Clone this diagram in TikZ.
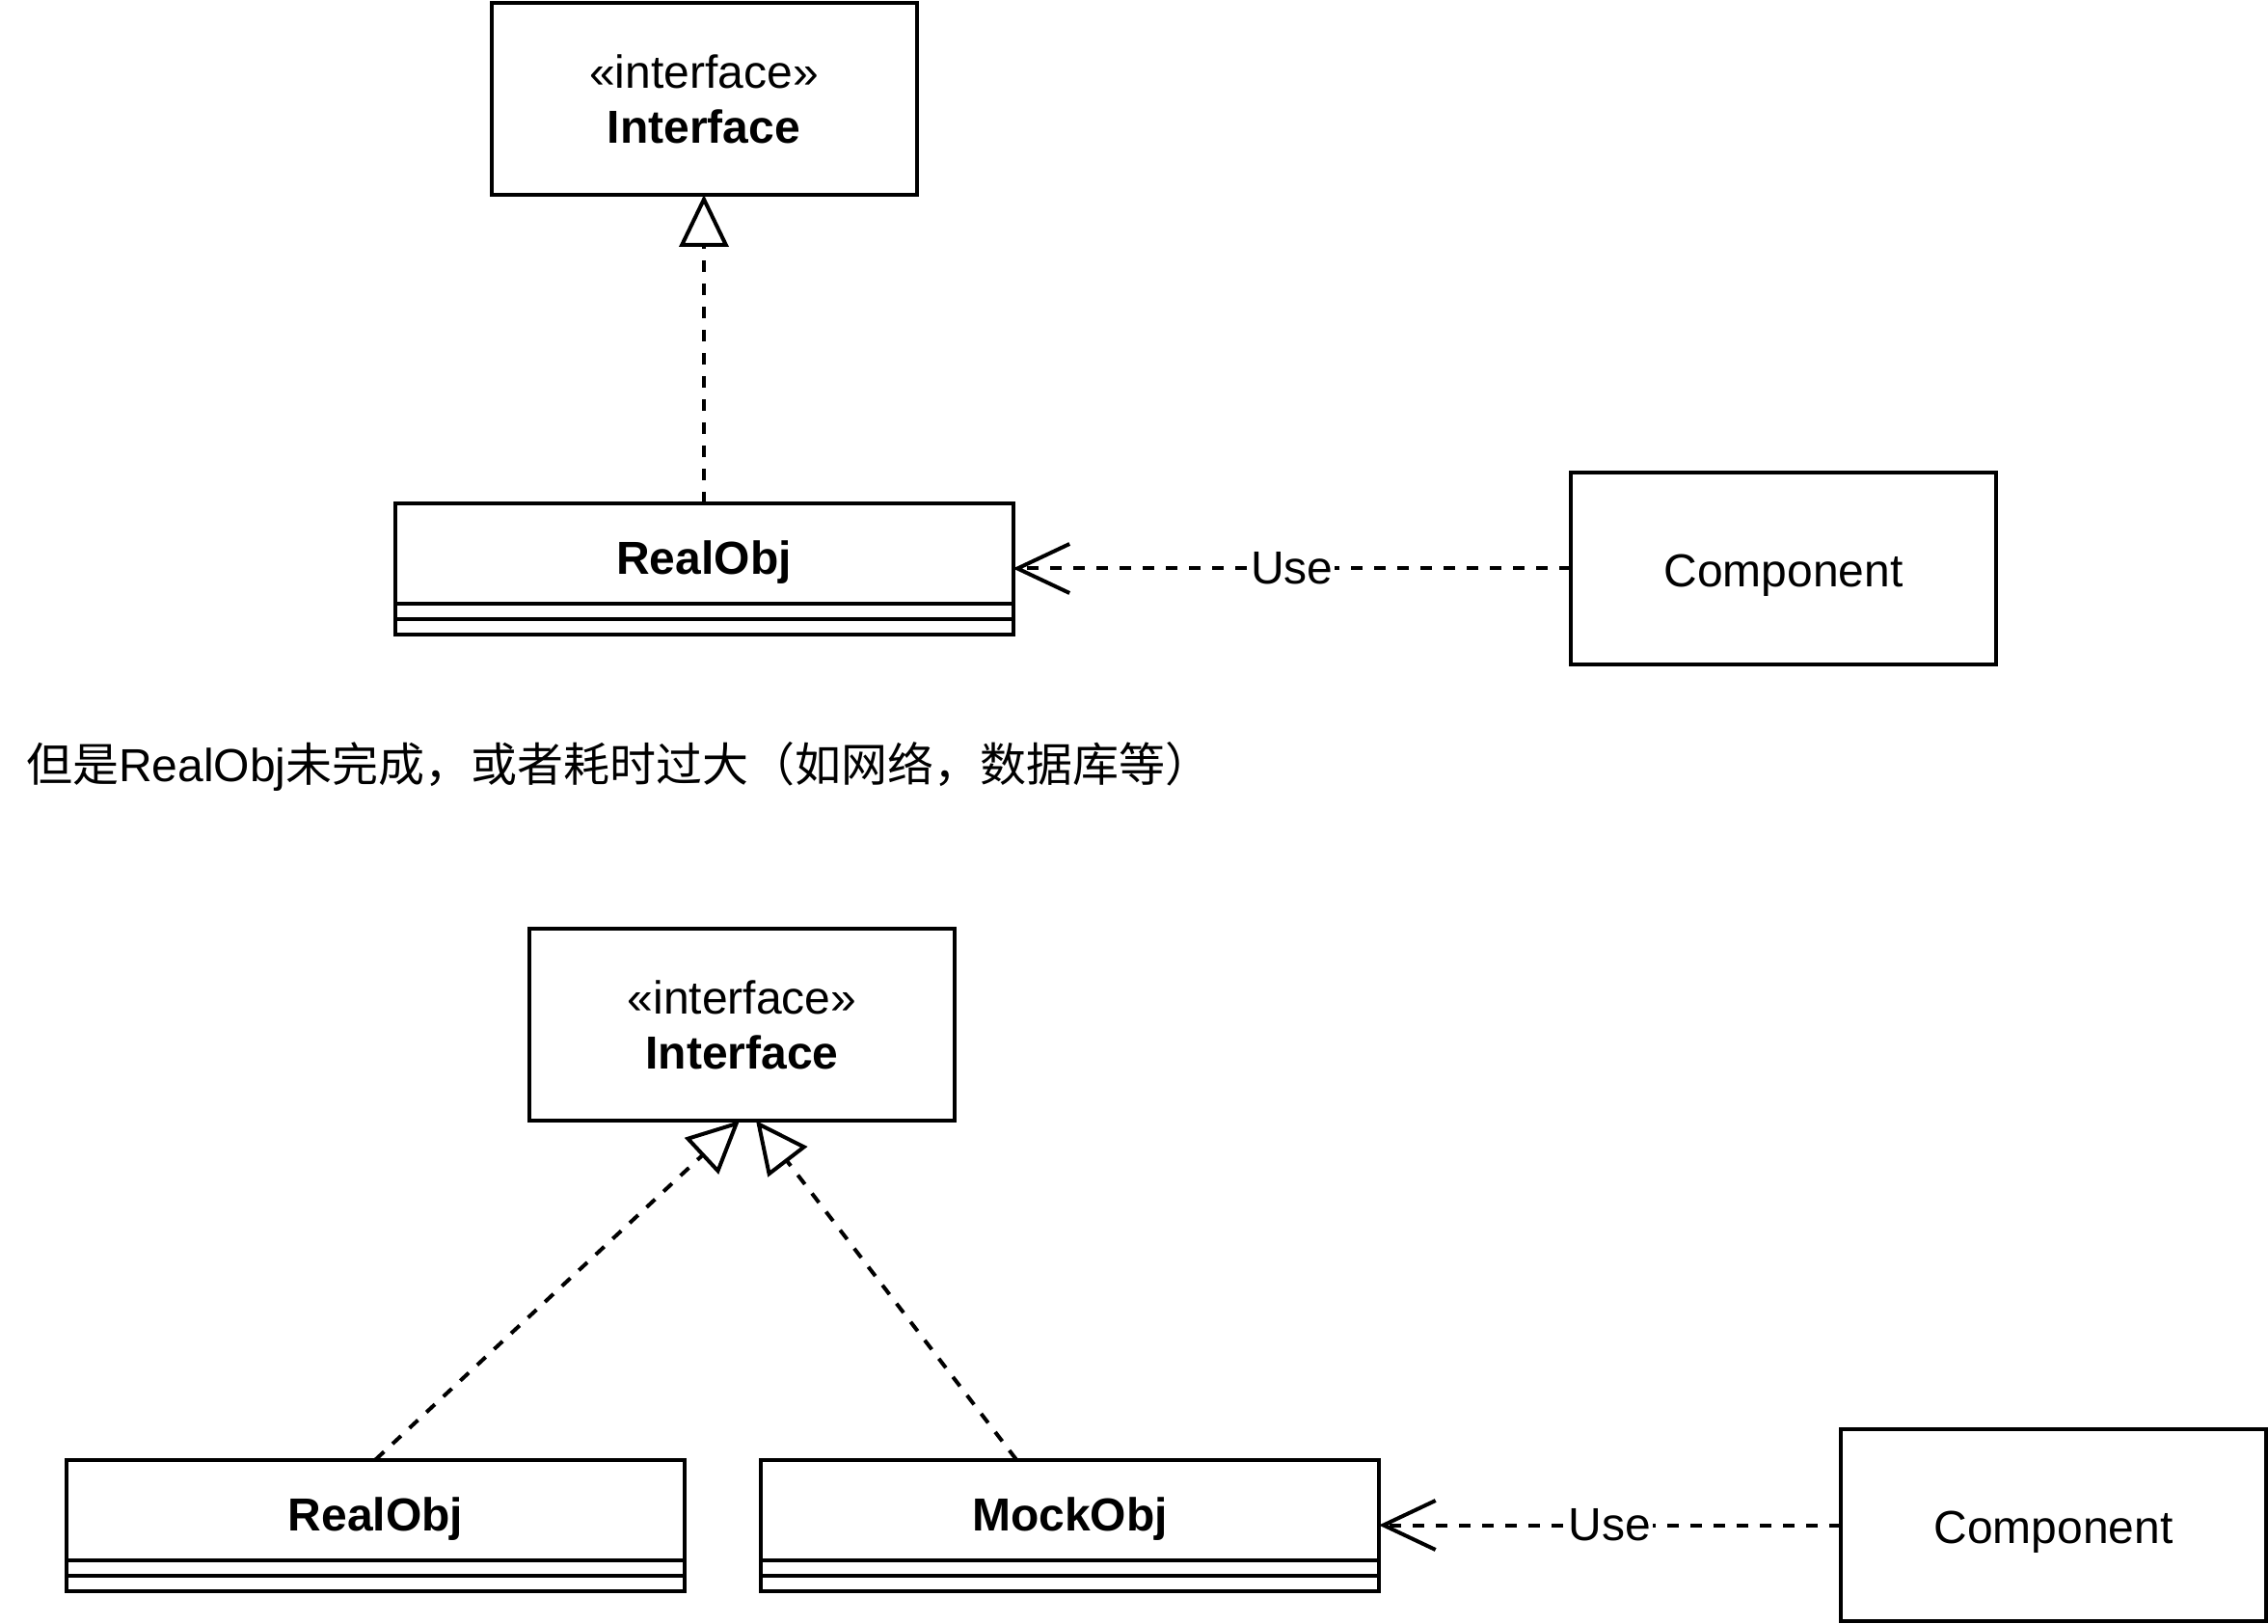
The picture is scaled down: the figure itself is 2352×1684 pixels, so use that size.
\documentclass[tikz,border=0pt]{standalone}
\usepackage{fontspec}
\setmainfont{Liberation Sans}
\newfontfamily\cjk{Noto Sans CJK SC}
\usetikzlibrary{arrows.meta}

\begin{document}
\begin{tikzpicture}[
    x=0.5pt, y=-0.5pt,
    line width=2pt,
    font=\fontsize{24}{28.5}\selectfont,
    ibox/.style={
        rectangle,
        draw,
        minimum width=220.5pt,
        minimum height=99.5pt,
        align=center,
        inner sep=0pt,
        outer sep=0pt
    },
    cls/.style={
        rectangle,
        draw,
        minimum width=320.5pt,
        minimum height=52pt,
        text height=22pt,
        text depth=0pt,
        font=\fontsize{24}{28.5}\selectfont\bfseries,
        inner sep=0pt,
        outer sep=0pt
    },
    realize/.style={
        -{Triangle[open, length=27pt, width=25.5pt]},
        dash pattern=on 6pt off 6pt
    },
    dep/.style={
        -{Straight Barb[length=27pt, width=25.5pt]},
        dash pattern=on 6pt off 6pt
    },
    lbl/.style={fill=white, inner sep=1pt}
]
\useasboundingbox (0,0) rectangle (2352,1684);

% top part
\node[ibox] (if1) at (730, 102.5) {«interface»\\\textbf{Interface}};
\node[cls] (r1) at (730, 574) {RealObj};
\draw (r1.south west) rectangle ([yshift=-8pt]r1.south east);
\draw ([yshift=-8pt]r1.south west) rectangle ([yshift=-16pt]r1.south east);
\node[ibox, text height=18.7pt, text depth=0pt] (c1) at (1849.5, 589.5) {Component};

\draw[realize] (r1) -- (if1);
\draw[dep] (c1.west) -- node[lbl] {Use} (c1.west -| r1.east);

% note
\node[anchor=west, inner sep=0pt] (note) at (25, 795) {{\cjk 但是}RealObj{\cjk 未完成，或者耗时过大（如网络，数据库等）}};

% bottom part
\node[ibox] (if2) at (769.5, 1062.5) {«interface»\\\textbf{Interface}};
\node[cls] (r2) at (389.5, 1565.5) {RealObj};
\draw (r2.south west) rectangle ([yshift=-8pt]r2.south east);
\draw ([yshift=-8pt]r2.south west) rectangle ([yshift=-16pt]r2.south east);
\node[cls] (m2) at (1109.5, 1565.5) {MockObj};
\draw (m2.south west) rectangle ([yshift=-8pt]m2.south east);
\draw ([yshift=-8pt]m2.south west) rectangle ([yshift=-16pt]m2.south east);
\node[ibox, text height=18.7pt, text depth=0pt] (c2) at (2129.5, 1581.5) {Component};

\draw[realize] (r2.north) -- ([xshift=-1.25pt]if2.south);
\draw[realize] ([xshift=-27.75pt]m2.north) -- ([xshift=7.25pt]if2.south);
\draw[dep] (c2.west) -- node[lbl] {Use} (c2.west -| m2.east);

\end{tikzpicture}
\end{document}
